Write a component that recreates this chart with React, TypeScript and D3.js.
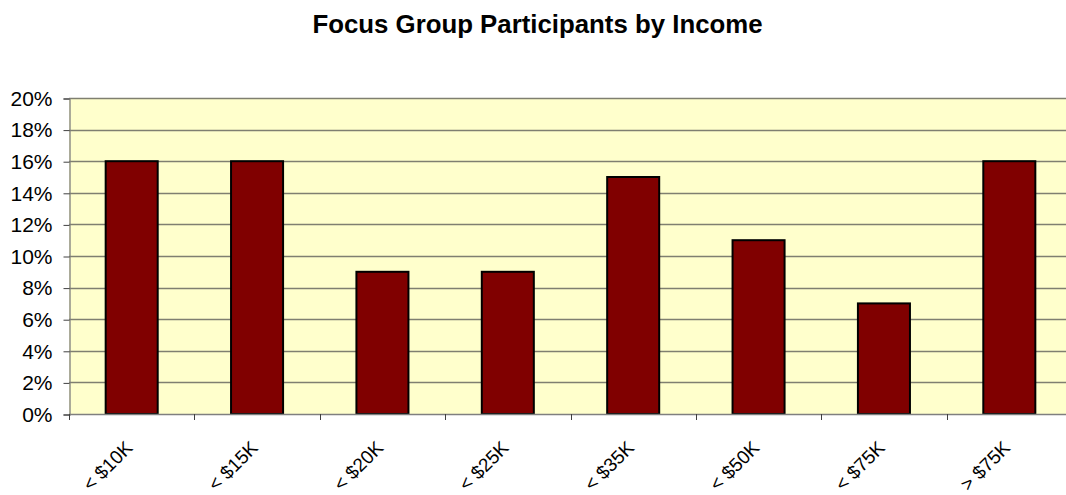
import React, { useEffect, useRef } from 'react';
import * as d3 from 'd3';

// chart data
const categories = ['< $10K', '< $15K', '< $20K', '< $25K', '< $35K', '< $50K', '< $75K', '> $75K'];
const shares = [16, 16, 9, 9, 15, 11, 7, 16];
const yTicks = [0, 2, 4, 6, 8, 10, 12, 14, 16, 18, 20];
const title = 'Focus Group Participants by Income';

export default function App() {
  const ref = useRef<SVGSVGElement>(null);

  useEffect(() => {
    const width = 1066;
    const height = 495;
    // plot area runs past the right edge of the picture, as in the original
    const margin = { top: 98, left: 69, right: 1072, bottom: 414 };
    const font = 'Arial, "Liberation Sans", sans-serif';

    const svg = d3.select(ref.current);
    svg.selectAll('*').remove();
    svg.attr('width', width).attr('height', height);

    const x = d3
      .scaleBand()
      .domain(categories)
      .range([margin.left, margin.right])
      .paddingInner(0.585)
      .paddingOuter(0.2925);
    const band = d3.scaleBand().domain(categories).range([margin.left, margin.right]);
    const y = d3.scaleLinear().domain([0, 20]).range([margin.bottom, margin.top]);

    // plot background
    svg
      .append('rect')
      .attr('x', margin.left)
      .attr('y', margin.top)
      .attr('width', margin.right - margin.left)
      .attr('height', margin.bottom - margin.top)
      .attr('fill', '#ffffcc');

    // gridlines
    svg
      .append('g')
      .selectAll('line')
      .data(yTicks.filter((t) => t > 0))
      .enter()
      .append('line')
      .attr('x1', margin.left)
      .attr('x2', margin.right)
      .attr('y1', (d) => Math.round(y(d)) + 0.5)
      .attr('y2', (d) => Math.round(y(d)) + 0.5)
      .attr('stroke', '#7f7f70')
      .attr('stroke-width', 1.3);

    // y axis
    const yAxis = d3
      .axisLeft(y)
      .tickValues(yTicks)
      .tickSize(6)
      .tickPadding(11)
      .tickFormat((d: any) => `${d}%`);
    const gy = svg
      .append('g')
      .attr('transform', `translate(${margin.left + 0.5},0.5)`)
      .call(yAxis);
    gy.select('.domain').attr('stroke', '#7f7f7f').attr('stroke-width', 1.3);
    gy.selectAll('.tick line').attr('stroke', '#404040');
    gy.selectAll('.tick text')
      .attr('font-family', font)
      .attr('font-size', 21)
      .attr('fill', '#000');

    // bars
    svg
      .append('g')
      .selectAll('rect')
      .data(shares)
      .enter()
      .append('rect')
      .attr('x', (d, i) => x(categories[i])!)
      .attr('y', (d) => y(d))
      .attr('width', x.bandwidth())
      .attr('height', (d) => y(0) - y(d))
      .attr('fill', '#800000')
      .attr('stroke', '#000')
      .attr('stroke-width', 2);

    // x axis line and ticks between categories
    svg
      .append('line')
      .attr('x1', margin.left)
      .attr('x2', margin.right)
      .attr('y1', margin.bottom + 0.5)
      .attr('y2', margin.bottom + 0.5)
      .attr('stroke', '#7f7f7f')
      .attr('stroke-width', 1.3);
    svg
      .append('g')
      .selectAll('line')
      .data(categories)
      .enter()
      .append('line')
      .attr('x1', (d) => Math.round(band(d)!) + 0.5)
      .attr('x2', (d) => Math.round(band(d)!) + 0.5)
      .attr('y1', margin.bottom)
      .attr('y2', margin.bottom + 6)
      .attr('stroke', '#404040');

    // rotated category labels
    svg
      .append('g')
      .selectAll('text')
      .data(categories)
      .enter()
      .append('text')
      .attr('transform', (d) => {
        const cx = band(d)! + band.bandwidth() / 2 + 2;
        return `translate(${cx},${margin.bottom + 35}) rotate(-45)`;
      })
      .attr('text-anchor', 'end')
      .attr('font-family', font)
      .attr('font-size', 19)
      .attr('fill', '#000')
      .text((d) => d);

    // title
    svg
      .append('text')
      .attr('x', 537.5)
      .attr('y', 33)
      .attr('text-anchor', 'middle')
      .attr('font-family', font)
      .attr('font-size', 25.8)
      .attr('font-weight', 'bold')
      .attr('fill', '#000')
      .text(title);
  }, []);

  return (
    <div style={{ position: 'fixed', top: 0, left: 0 }}>
      <svg ref={ref} style={{ display: 'block', background: '#fff' }} />
    </div>
  );
}
